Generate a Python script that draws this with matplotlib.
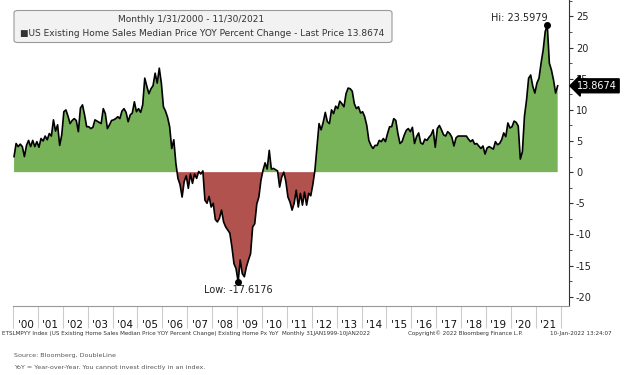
import matplotlib
matplotlib.use('Agg')
from matplotlib import pyplot as plt
from matplotlib.patches import FancyBboxPatch
from matplotlib.ticker import MultipleLocator, FixedLocator
import numpy as np

# US Existing Home Sales Median Price YoY % change, monthly Jan 2000 - Nov 2021
yoy_2000 = [2.5, 4.6, 4.1, 4.5, 4.1, 2.5, 4.3, 5.1, 4.1, 5.1, 4.1, 4.9]
yoy_2001 = [4.0, 5.4, 5.0, 5.8, 5.2, 6.2, 5.8, 8.4, 6.6, 7.6, 4.3, 6.0]
yoy_2002 = [9.7, 10.0, 9.0, 7.8, 8.3, 8.6, 8.3, 6.5, 10.3, 10.8, 9.2, 7.3]
yoy_2003 = [7.3, 7.0, 7.2, 8.4, 8.2, 8.0, 7.8, 10.2, 9.4, 7.0, 7.6, 8.3]
yoy_2004 = [8.4, 8.6, 8.9, 8.6, 9.8, 10.2, 9.6, 8.1, 9.2, 9.5, 11.3, 9.7]
yoy_2005 = [10.2, 9.6, 10.8, 15.1, 13.8, 12.6, 13.4, 13.9, 15.9, 14.3, 16.7, 14.3]
yoy_2006 = [10.5, 9.8, 8.8, 7.3, 3.8, 5.2, 1.4, -1.0, -2.0, -4.0, -1.5, -0.6]
yoy_2007 = [-2.6, -0.3, -1.8, -0.3, -1.0, 0.1, -0.3, 0.2, -4.5, -5.0, -3.9, -5.6]
yoy_2008 = [-5.0, -7.6, -8.0, -7.4, -6.1, -8.0, -8.8, -9.3, -9.8, -12.0, -14.7, -15.5]
yoy_2009 = [-17.6176, -14.1, -16.3, -16.8, -15.2, -14.1, -13.1, -8.8, -8.3, -5.1, -4.0, -1.3]
yoy_2010 = [0.3, 1.5, 0.5, 3.5, 0.5, 0.6, 0.4, 0.2, -2.4, -0.8, 0.0, -1.5]
yoy_2011 = [-4.0, -4.8, -6.1, -5.0, -2.9, -5.6, -3.4, -5.3, -3.2, -5.3, -3.4, -3.8]
yoy_2012 = [-2.0, 0.3, 4.1, 7.8, 6.8, 8.0, 9.6, 8.1, 7.8, 10.0, 9.4, 10.6]
yoy_2013 = [10.2, 11.4, 11.0, 10.5, 12.6, 13.5, 13.4, 13.0, 11.0, 10.2, 10.5, 9.5]
yoy_2014 = [9.7, 8.9, 7.5, 5.1, 4.3, 3.8, 4.3, 4.3, 5.1, 4.9, 5.4, 4.9]
yoy_2015 = [6.2, 7.3, 7.3, 8.6, 8.3, 6.2, 4.6, 4.9, 5.9, 6.7, 7.0, 6.5]
yoy_2016 = [7.2, 4.6, 5.7, 6.3, 4.7, 4.5, 5.3, 5.1, 5.6, 6.0, 6.8, 4.0]
yoy_2017 = [7.0, 7.5, 6.8, 6.0, 5.8, 6.5, 6.2, 5.6, 4.2, 5.5, 5.8, 5.8]
yoy_2018 = [5.8, 5.8, 5.8, 5.3, 4.9, 5.2, 4.5, 4.6, 4.2, 3.8, 4.2, 2.9]
yoy_2019 = [3.9, 4.1, 3.9, 3.7, 4.9, 4.4, 4.6, 5.2, 6.3, 5.7, 7.9, 7.1]
yoy_2020 = [7.3, 8.2, 8.0, 7.4, 2.1, 3.3, 9.0, 11.6, 15.1, 15.6, 13.8, 12.7]
yoy_2021 = [14.3, 15.1, 17.5, 19.6, 22.6, 23.5979, 17.5, 16.4, 14.8, 12.7, 13.8674]

year_labels = ["'00", "'01", "'02", "'03", "'04", "'05", "'06", "'07", "'08", "'09", "'10",
               "'11", "'12", "'13", "'14", "'15", "'16", "'17", "'18", "'19", "'20", "'21"]

yoy = np.array(yoy_2000 + yoy_2001 + yoy_2002 + yoy_2003 + yoy_2004 + yoy_2005 + yoy_2006 +
               yoy_2007 + yoy_2008 + yoy_2009 + yoy_2010 + yoy_2011 + yoy_2012 + yoy_2013 +
               yoy_2014 + yoy_2015 + yoy_2016 + yoy_2017 + yoy_2018 + yoy_2019 + yoy_2020 +
               yoy_2021)
t = 2000 + (np.arange(len(yoy)) + 0.5) / 12

W, H = 624, 375
fig = plt.figure(figsize=(W / 100, H / 100), dpi=100)
ax = fig.add_axes([13 / W, 1 - 306 / H, (569 - 13) / W, 306 / H])

green = '#79b359'
red = '#b2524f'
ax.fill_between(t, yoy, 0, where=yoy >= 0, interpolate=True, color=green, lw=0)
ax.fill_between(t, yoy, 0, where=yoy <= 0, interpolate=True, color=red, lw=0)
ax.plot(t, yoy, color='black', lw=1.2, solid_joinstyle='round')

ax.set_xlim(2000, 2022.33)
ax.set_ylim(-21.5, 27.65)

for s in ['left', 'top']:
    ax.spines[s].set_visible(False)
ax.spines['right'].set_color('#333333')
ax.spines['right'].set_linewidth(0.8)
ax.spines['bottom'].set_color('#999999')
ax.spines['bottom'].set_linewidth(0.8)

# y axis on the right
ax.yaxis.tick_right()
ax.set_yticks(np.arange(-20, 30, 5))
ax.set_yticklabels([str(v) for v in range(-20, 30, 5)])
ax.yaxis.set_minor_locator(MultipleLocator(2.5))
ax.tick_params(axis='y', which='major', direction='out', length=3, width=0.8,
               color='#333333', labelsize=7, pad=2, labelcolor='#222222')
ax.tick_params(axis='y', which='minor', direction='out', length=2, width=0.6, color='#333333')

# x axis: year cells
ax.xaxis.set_major_locator(FixedLocator(np.arange(2000, 2023)))
ax.xaxis.set_minor_locator(FixedLocator(np.arange(2000, 2022) + 0.5))
ax.set_xticklabels([], minor=False)
ax.set_xticklabels(year_labels, minor=True)
ax.tick_params(axis='x', which='major', direction='out', length=16, width=0.8, color='#cccccc')
ax.tick_params(axis='x', which='minor', length=0, labelsize=7.5, pad=10, labelcolor='#111111')

# hi / low markers
i_hi = int(np.argmax(yoy))
i_lo = int(np.argmin(yoy))
ax.plot([t[i_hi], t[i_lo]], [yoy[i_hi], yoy[i_lo]], 'o', color='black', ms=4, zorder=5)
ax.annotate(f'Hi: {yoy[i_hi]:.4f}', xy=(t[i_hi], yoy[i_hi]), xytext=(0, 1.5),
            textcoords='offset points', ha='right', va='bottom', fontsize=7, color='#222222')
ax.annotate(f'Low: {yoy[i_lo]:.4f}', xy=(t[i_lo], yoy[i_lo]), xytext=(0, -2.5),
            textcoords='offset points', ha='center', va='top', fontsize=7, color='#222222')

# last price tag
ax.annotate(f'{yoy[-1]:.4f}', xy=(1.0, yoy[-1]), xycoords=('axes fraction', 'data'),
            xytext=(6, 0), textcoords='offset points', ha='left', va='center',
            color='white', fontsize=7, zorder=6, annotation_clip=False,
            bbox=dict(boxstyle='larrow,pad=0.2', fc='black', ec='black'))

# legend box at top
box = FancyBboxPatch((14 / W, 1 - 42.5 / H), (392 - 14) / W, 32 / H,
                     boxstyle='round,pad=0,rounding_size=0.006', transform=fig.transFigure,
                     fc='#f2f2f2', ec='#9a9a9a', lw=0.8, zorder=10)
fig.patches.append(box)
fig.text(191 / W, 1 - 20 / H, 'Monthly 1/31/2000 - 11/30/2021', ha='center', va='center',
         fontsize=6.5, color='#333333', zorder=11)
fig.text(20 / W, 1 - 33 / H,
         '\u25a0US Existing Home Sales Median Price YOY Percent Change - Last Price 13.8674',
         ha='left', va='center', fontsize=6.5, color='#333333', zorder=11)

# footer lines
fy = 1 - 333 / H
fig.text(2 / W, fy, 'ETSLMPYY Index (US Existing Home Sales Median Price YOY Percent Change) '
         'Existing Home Px YoY  Monthly 31JAN1999-10JAN2022', fontsize=4.1, va='center',
         color='#333333')
fig.text(408 / W, fy, 'Copyright\u00a9 2022 Bloomberg Finance L.P.', fontsize=4.1,
         va='center', color='#333333')
fig.text(612 / W, fy, '10-Jan-2022 13:24:07', fontsize=4.1, va='center', ha='right',
         color='#333333')

fig.text(14 / W, 1 - 355 / H, 'Source: Bloomberg, DoubleLine', fontsize=4.6, va='center',
         color='#555555')
fig.text(14 / W, 1 - 368 / H, 'YoY = Year-over-Year. You cannot invest directly in an index.',
         fontsize=4.6, va='center', color='#555555')

fig.savefig('out.png', dpi=100)
